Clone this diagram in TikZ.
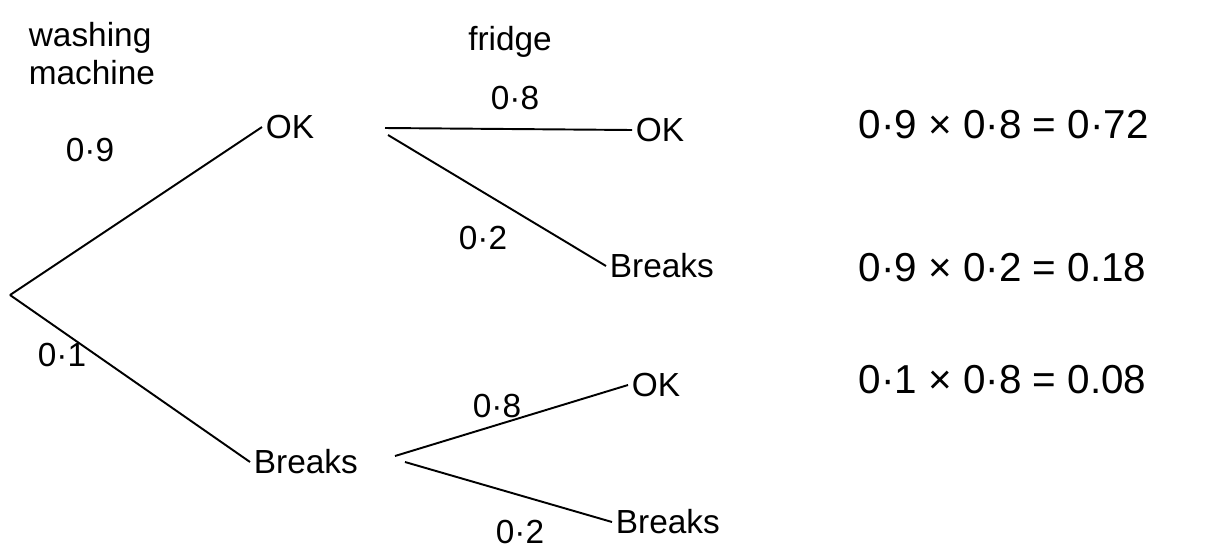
\documentclass[tikz,border=0pt]{standalone}
\usepackage{fontspec}
\setmainfont{Liberation Sans}
\begin{document}
\begin{tikzpicture}[x=0.02cm,y=-0.02cm,
  lbl/.style={font=\fontsize{19}{22}\selectfont, inner sep=2pt},
  res/.style={font=\fontsize{23}{26}\selectfont, inner sep=2pt, anchor=west},
  edge/.style={line width=1.1pt, black}]
\useasboundingbox (0,0) rectangle (1220,552);
\coordinate (root) at (10,295);
\node[lbl, align=left, anchor=north west] (wm) at (25,18) {washing\\machine};
\node[lbl] (fr) at (510,42) {fridge};
\node[lbl, anchor=west] (ok1) at (262,127) {OK};
\node[lbl, anchor=west] (br1) at (250,462) {Breaks};
\node[lbl, anchor=west] (ok2) at (632,130) {OK};
\node[lbl, anchor=west] (br2) at (606,266) {Breaks};
\node[lbl, anchor=west] (ok3) at (628,385) {OK};
\node[lbl, anchor=west] (br3) at (612,522) {Breaks};
\coordinate (ok1a) at (385,128);
\coordinate (ok1b) at (388,135);
\coordinate (br1a) at (395,456);
\coordinate (br1b) at (405,462);
\draw[edge] (root) -- (ok1.west);
\draw[edge] (root) -- (br1.west);
\draw[edge] (ok1a) -- (ok2.west);
\draw[edge] (ok1b) -- (br2.west);
\draw[edge] (br1a) -- (ok3.west);
\draw[edge] (br1b) -- (br3.west);
\node[lbl] (p1) at (90,150) {0·9};
\node[lbl] (p2) at (62,355) {0·1};
\node[lbl] (p3) at (515,98) {0·8};
\node[lbl] (p4) at (483,238) {0·2};
\node[lbl] (p5) at (497,406) {0·8};
\node[lbl] (p6) at (520,532) {0·2};
\node[res] (r1) at (855,125) {0·9 × 0·8 = 0·72};
\node[res] (r2) at (855,268) {0·9 × 0·2 = 0.18};
\node[res] (r3) at (855,380) {0·1 × 0·8 = 0.08};
\end{tikzpicture}
\end{document}
